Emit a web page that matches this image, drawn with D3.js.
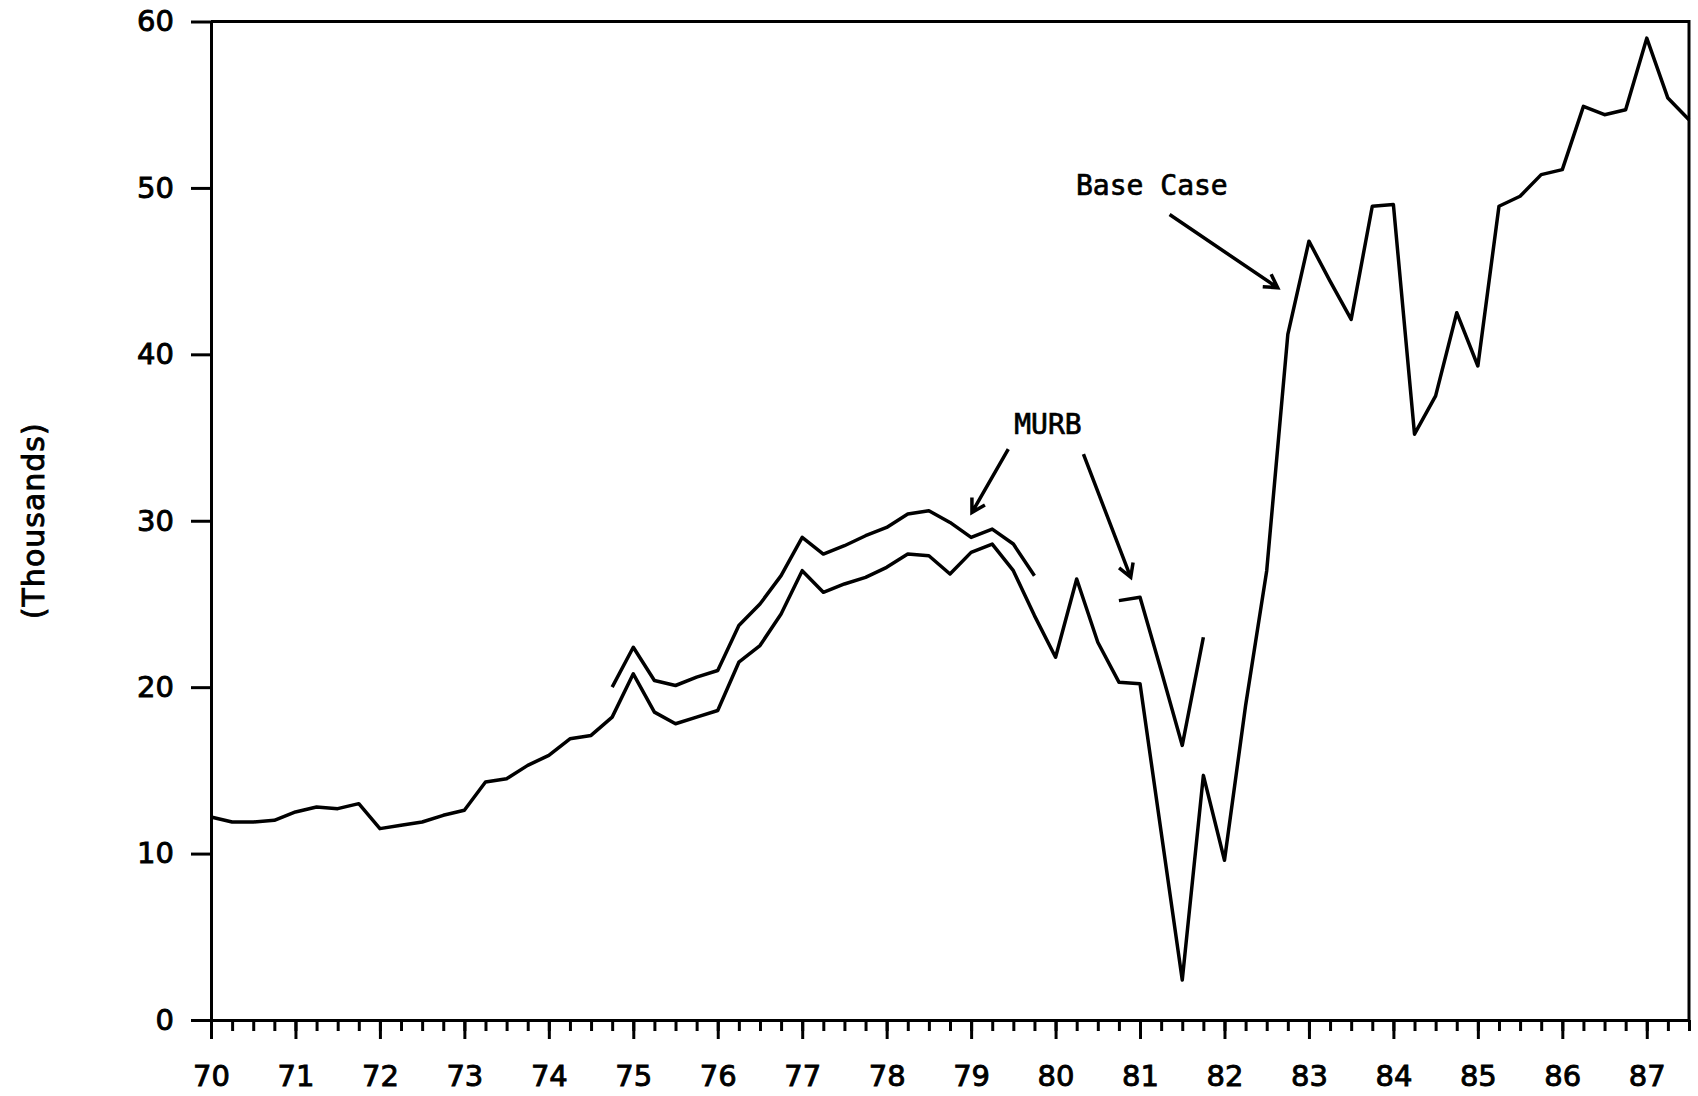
<!DOCTYPE html>
<html>
<head>
<meta charset="utf-8">
<script src="https://cdn.jsdelivr.net/npm/d3@7"></script>
<style>
  body { margin: 0; background: #fff; }
  .tick text { font-family: "DejaVu Sans", sans-serif; fill: #000; stroke: #000; stroke-width: 0.9px; }
  .note { font-family: "DejaVu Sans Mono", monospace; font-size: 28px; fill: #000; stroke: #000; stroke-width: 0.7px; }
</style>
</head>
<body>
<div id="chart"></div>
<script>
// quarterly observations, 1970 Q1 .. 1987 Q3
var quarters = [
  70.00, 70.25, 70.50, 70.75, 71.00, 71.25, 71.50, 71.75,
  72.00, 72.25, 72.50, 72.75, 73.00, 73.25, 73.50, 73.75,
  74.00, 74.25, 74.50, 74.75, 75.00, 75.25, 75.50, 75.75,
  76.00, 76.25, 76.50, 76.75, 77.00, 77.25, 77.50, 77.75,
  78.00, 78.25, 78.50, 78.75, 79.00, 79.25, 79.50, 79.75,
  80.00, 80.25, 80.50, 80.75, 81.00, 81.25, 81.50, 81.75,
  82.00, 82.25, 82.50, 82.75, 83.00, 83.25, 83.50, 83.75,
  84.00, 84.25, 84.50, 84.75, 85.00, 85.25, 85.50, 85.75,
  86.00, 86.25, 86.50, 86.75, 87.00, 87.25, 87.50
];

// Base Case (thousands)
var baseCase = [
  12.2, 11.9, 11.9, 12.0, 12.5, 12.8, 12.7, 13.0,
  11.5, 11.7, 11.9, 12.3, 12.6, 14.3, 14.5, 15.3,
  15.9, 16.9, 17.1, 18.2, 20.8, 18.5, 17.8, 18.2,
  18.6, 21.5, 22.5, 24.4, 27.0, 25.7, 26.2, 26.6,
  27.2, 28.0, 27.9, 26.8, 28.1, 28.6, 27.0, 24.3,
  21.8, 26.5, 22.7, 20.3, 20.2, 11.3, 2.4, 14.7,
  9.6, 18.9, 27.0, 41.2, 46.8, 44.4, 42.1, 48.9,
  49.0, 35.2, 37.5, 42.5, 39.3, 48.9, 49.5, 50.8,
  51.1, 54.9, 54.4, 54.7, 59.0, 55.4, 54.1
];

// MURB scenario, two separate stretches
var murbQuarters1 = [74.75, 75.00, 75.25, 75.50, 75.75, 76.00, 76.25, 76.50, 76.75, 77.00, 77.25,
                     77.50, 77.75, 78.00, 78.25, 78.50, 78.75, 79.00, 79.25, 79.50, 79.75];
var murbValues1   = [20.0, 22.4, 20.4, 20.1, 20.6, 21.0, 23.7, 25.0, 26.7, 29.0, 28.0,
                     28.5, 29.1, 29.6, 30.4, 30.6, 29.9, 29.0, 29.5, 28.6, 26.7];
var murbQuarters2 = [80.75, 81.00, 81.25, 81.50, 81.75];
var murbValues2   = [25.2, 25.4, 21.0, 16.5, 23.0];

var yTicks = [0, 10, 20, 30, 40, 50, 60];
var yearTicks = [70, 71, 72, 73, 74, 75, 76, 77, 78, 79, 80, 81, 82, 83, 84, 85, 86, 87];

// annotation labels and arrows, in data units (year, thousands)
var labels = [
  {text: "MURB", x: 79.91, y: 35.2},
  {text: "Base Case", x: 81.14, y: 49.6}
];
var arrows = [
  {x1: 79.44, y1: 34.3, x2: 79.01, y2: 30.5},
  {x1: 80.33, y1: 34.0, x2: 80.89, y2: 26.6},
  {x1: 81.35, y1: 48.4, x2: 82.63, y2: 44.0}
];

var width = 1698, height = 1096;
var margin = {top: 21.5, right: 9, bottom: 76, left: 211};

var svg = d3.select("#chart").append("svg")
  .attr("width", width).attr("height", height);

var x = d3.scaleLinear().domain([70, 87.5]).range([margin.left, width - margin.right]);
var y = d3.scaleLinear().domain([0, 60]).range([height - margin.bottom, margin.top]);

// frame: top and right edges
svg.append("path")
  .attr("d", "M" + x(70) + "," + y(60) + "H" + x(87.5) + "V" + y(0))
  .attr("fill", "none").attr("stroke", "#000").attr("stroke-width", 3);

// y axis
var yAxis = svg.append("g")
  .attr("transform", "translate(" + x(70) + ",0)")
  .call(d3.axisLeft(y).tickValues(yTicks).tickSize(20).tickPadding(17).tickSizeOuter(0));
yAxis.selectAll("text").style("font-size", "29px");

// x axis: quarterly minor ticks, then year ticks with labels
svg.append("g")
  .attr("transform", "translate(0," + y(0) + ")")
  .call(d3.axisBottom(x).tickValues(quarters).tickSize(11).tickFormat("").tickSizeOuter(0));
var xAxis = svg.append("g")
  .attr("transform", "translate(0," + y(0) + ")")
  .call(d3.axisBottom(x).tickValues(yearTicks).tickSize(19).tickPadding(26)
    .tickFormat(d3.format("d")).tickSizeOuter(0));
xAxis.selectAll("text").style("font-size", "29px");

svg.selectAll(".domain").attr("stroke-width", 3);
svg.selectAll(".tick line").attr("stroke-width", 3);

// y axis title
svg.append("text")
  .attr("transform", "translate(44," + y(30) + ") rotate(-90)")
  .attr("text-anchor", "middle")
  .style("font-family", "DejaVu Sans, sans-serif")
  .style("font-size", "30px")
  .style("letter-spacing", "1px")
  .style("stroke", "#000")
  .style("stroke-width", "0.9px")
  .text("(Thousands)");

var line = d3.line()
  .x(function(d) { return x(d[0]); })
  .y(function(d) { return y(d[1]); });

var series = [
  d3.zip(quarters, baseCase),
  d3.zip(murbQuarters1, murbValues1),
  d3.zip(murbQuarters2, murbValues2)
];

svg.append("g").selectAll("path")
  .data(series)
  .enter().append("path")
  .attr("d", line)
  .attr("fill", "none")
  .attr("stroke", "#000")
  .attr("stroke-width", 3.5)
  .attr("stroke-linejoin", "round");

// annotations
svg.selectAll(".note")
  .data(labels)
  .enter().append("text")
  .attr("class", "note")
  .attr("x", function(d) { return x(d.x); })
  .attr("y", function(d) { return y(d.y); })
  .attr("text-anchor", "middle")
  .text(function(d) { return d.text; });

svg.append("g").selectAll("path")
  .data(arrows)
  .enter().append("path")
  .attr("d", function(d) {
    var ax = x(d.x1), ay = y(d.y1), bx = x(d.x2), by = y(d.y2);
    var ang = Math.atan2(by - ay, bx - ax), len = 15, spread = Math.PI / 6;
    var p1 = [bx - len * Math.cos(ang - spread), by - len * Math.sin(ang - spread)];
    var p2 = [bx - len * Math.cos(ang + spread), by - len * Math.sin(ang + spread)];
    return "M" + ax + "," + ay + "L" + bx + "," + by +
           "M" + p1[0] + "," + p1[1] + "L" + bx + "," + by + "L" + p2[0] + "," + p2[1];
  })
  .attr("fill", "none")
  .attr("stroke", "#000")
  .attr("stroke-width", 3.5);
</script>
</body>
</html>
